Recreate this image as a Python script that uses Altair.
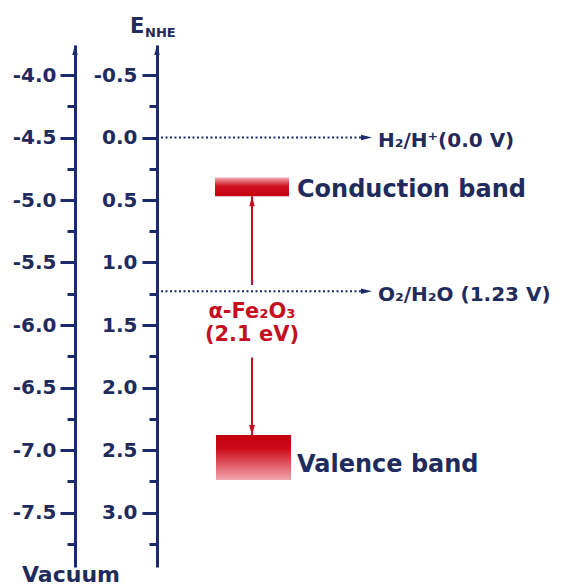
import json
import altair as alt
import pandas as pd

# ---------------- data ----------------
nhe_major = [-0.5, 0.0, 0.5, 1.0, 1.5, 2.0, 2.5, 3.0]
nhe_labels = ["-0.5", "0.0", "0.5", "1.0", "1.5", "2.0", "2.5", "3.0"]
vacuum_labels = ["-4.0", "-4.5", "-5.0", "-5.5", "-6.0", "-6.5", "-7.0", "-7.5"]
nhe_minor = [-0.25, 0.25, 0.75, 1.25, 1.75, 2.25, 2.75, 3.25]
axis_range = [-0.74, 3.436]          # NHE potential at top / bottom of the axes

redox_names = ["H₂/H⁺(0.0 V)", "O₂/H₂O (1.23 V)"]
redox_potentials = [0.0, 1.23]

cb_edges = [0.32, 0.47]              # conduction band top / bottom (V vs NHE)
vb_edges = [2.38, 2.74]              # valence band top / bottom
arrow_tails = [1.18, 1.76]           # start of the up / down red arrows
gap_labels = ["α-Fe₂O₃", "(2.1 eV)"]
band_labels = ["Conduction band", "Valence band"]

# ---------------- styles ----------------
NAVY = "#1b2a6b"
TEXT = "#1f2b5c"
RED = "#c5101f"
FONT = "DejaVu Sans"

yscale = alt.Scale(domain=axis_range, reverse=True, nice=False, zero=False)


def expr_map(values, labels):
    return f"{json.dumps(labels)}[indexof({json.dumps(values)}, datum.value)]"


common_axis = dict(
    orient="left", title=None, grid=False,
    domainColor=NAVY, domainWidth=3, tickColor=NAVY, tickWidth=3,
    labelFont=FONT, labelFontWeight="bold", labelFontSize=20, labelColor=TEXT,
    labelOverlap=False, labelBound=False, labelFlush=False,
)

vac_axis = alt.Axis(values=nhe_major, labelExpr=expr_map(nhe_major, vacuum_labels),
                    offset=82, tickSize=15, labelPadding=4, **common_axis)
nhe_axis = alt.Axis(values=nhe_major, labelExpr=expr_map(nhe_major, nhe_labels),
                    offset=0, tickSize=15, labelPadding=5, **common_axis)
vac_minor_axis = alt.Axis(values=nhe_minor, labels=False, domain=False,
                          offset=82, tickSize=8, **common_axis)
nhe_minor_axis = alt.Axis(values=nhe_minor, labels=False, domain=False,
                          offset=0, tickSize=8, **common_axis)

top_df = pd.DataFrame({"v": [axis_range[0]]})
minor_df = pd.DataFrame({"v": nhe_minor})
redox_df = pd.DataFrame({"name": redox_names, "v": redox_potentials})
cb_df = pd.DataFrame({"top": [cb_edges[0]], "bottom": [cb_edges[1]]})
vb_df = pd.DataFrame({"top": [vb_edges[0]], "bottom": [vb_edges[1]]})
up_df = pd.DataFrame({"tail": [arrow_tails[0]], "head": [cb_edges[1]]})
down_df = pd.DataFrame({"tail": [arrow_tails[1]], "head": [vb_edges[0]]})
gap_mid = (cb_edges[1] + vb_edges[0]) / 2
gap1_df = pd.DataFrame({"t": [gap_labels[0]], "v": [gap_mid]})
gap2_df = pd.DataFrame({"t": [gap_labels[1]], "v": [gap_mid]})
cb_text_df = pd.DataFrame({"t": [band_labels[0]], "v": [(cb_edges[0] + cb_edges[1]) / 2]})
vb_text_df = pd.DataFrame({"t": [band_labels[1]], "v": [(vb_edges[0] + vb_edges[1]) / 2]})

UP = "M0,0L0.55,2L-0.55,2Z"
DOWN = "M0,0L0.6,-2L-0.6,-2Z"
RIGHT = "M0,0L-2.2,-0.55L-2.2,0.55Z"

Y = lambda f, ax=None: alt.Y(f, scale=yscale, axis=ax)

vac_line = alt.Chart(top_df).mark_point(shape=UP, size=100, filled=True, color=NAVY,
                                        opacity=1, strokeWidth=0).encode(
    x=alt.value(-82), y=Y("v:Q", vac_axis))
nhe_line = alt.Chart(top_df).mark_point(shape=UP, size=100, filled=True, color=NAVY,
                                        opacity=1, strokeWidth=0).encode(
    x=alt.value(0), y=Y("v:Q", nhe_axis))
vac_minor = alt.Chart(minor_df).mark_point(opacity=0).encode(
    x=alt.value(-82), y=Y("v:Q", vac_minor_axis))
nhe_minor_l = alt.Chart(minor_df).mark_point(opacity=0).encode(
    x=alt.value(0), y=Y("v:Q", nhe_minor_axis))

redox_rule = alt.Chart(redox_df).mark_rule(color=NAVY, strokeWidth=2, strokeDash=[2, 2.5]).encode(
    y=Y("v:Q"), x=alt.value(4), x2=alt.value(206))
redox_head = alt.Chart(redox_df).mark_point(shape=RIGHT, size=100, filled=True, color=NAVY,
                                            opacity=1, strokeWidth=0).encode(
    x=alt.value(215), y=Y("v:Q"))
redox_text = alt.Chart(redox_df).mark_text(align="left", baseline="alphabetic", dy=9.5,
                                           font=FONT, fontWeight="bold", fontSize=20,
                                           color=TEXT).encode(
    x=alt.value(221), y=Y("v:Q"), text="name:N")

cb_grad = alt.LinearGradient(gradient="linear", x1=0, x2=0, y1=0, y2=1, stops=[
    alt.GradientStop(offset=0, color="#f2a9b0"),
    alt.GradientStop(offset=0.45, color="#d2141f"),
    alt.GradientStop(offset=1, color="#c4000f")])
vb_grad = alt.LinearGradient(gradient="linear", x1=0, x2=0, y1=0, y2=1, stops=[
    alt.GradientStop(offset=0, color="#c4000f"),
    alt.GradientStop(offset=0.3, color="#cc0a18"),
    alt.GradientStop(offset=1, color="#f2a6ae")])

cb_rect = alt.Chart(cb_df).mark_rect(fill=cb_grad).encode(
    x=alt.value(58), x2=alt.value(132), y=Y("top:Q"), y2="bottom:Q")
vb_rect = alt.Chart(vb_df).mark_rect(fill=vb_grad).encode(
    x=alt.value(59), x2=alt.value(134), y=Y("top:Q"), y2="bottom:Q")

up_rule = alt.Chart(up_df).mark_rule(color=RED, strokeWidth=2).encode(
    x=alt.value(95), y=Y("tail:Q"), y2="head:Q")
up_head = alt.Chart(up_df).mark_point(shape=UP, size=100, filled=True, color=RED,
                                      opacity=1, strokeWidth=0).encode(
    x=alt.value(95), y=Y("head:Q"))
down_rule = alt.Chart(down_df).mark_rule(color=RED, strokeWidth=2).encode(
    x=alt.value(95), y=Y("tail:Q"), y2="head:Q")
down_head = alt.Chart(down_df).mark_point(shape=DOWN, size=100, filled=True, color=RED,
                                          opacity=1, strokeWidth=0).encode(
    x=alt.value(95), y=Y("head:Q"))

gap1 = alt.Chart(gap1_df).mark_text(align="center", baseline="alphabetic", dy=2.5,
                                    font=FONT, fontWeight="bold", fontSize=21, color=RED).encode(
    x=alt.value(95), y=Y("v:Q"), text="t:N")
gap2 = alt.Chart(gap2_df).mark_text(align="center", baseline="alphabetic", dy=25.5,
                                    font=FONT, fontWeight="bold", fontSize=21, color=RED).encode(
    x=alt.value(95), y=Y("v:Q"), text="t:N")

cb_text = alt.Chart(cb_text_df).mark_text(align="left", baseline="middle", dy=3,
                                          font=FONT, fontWeight="bold", fontSize=24,
                                          color=TEXT).encode(
    x=alt.value(140), y=Y("v:Q"), text="t:N")
vb_text = alt.Chart(vb_text_df).mark_text(align="left", baseline="middle", dy=7,
                                          font=FONT, fontWeight="bold", fontSize=24,
                                          color=TEXT).encode(
    x=alt.value(140), y=Y("v:Q"), text="t:N")

e_text = alt.Chart(pd.DataFrame({"t": ["E"]})).mark_text(
    align="left", baseline="alphabetic", font=FONT, fontWeight="bold", fontSize=21,
    color=TEXT).encode(x=alt.value(-27), y=alt.value(-12), text="t:N")
nhe_text = alt.Chart(pd.DataFrame({"t": ["NHE"]})).mark_text(
    align="left", baseline="alphabetic", font=FONT, fontWeight="bold", fontSize=13,
    color=TEXT).encode(x=alt.value(-12), y=alt.value(-8), text="t:N")
vac_text = alt.Chart(pd.DataFrame({"t": ["Vacuum"]})).mark_text(
    align="center", baseline="alphabetic", font=FONT, fontWeight="bold", fontSize=22,
    color=TEXT).encode(x=alt.value(-86), y=alt.value(537), text="t:N")

chart = alt.layer(
    vac_line, nhe_line, vac_minor, nhe_minor_l,
    redox_rule, redox_head, redox_text,
    cb_rect, vb_rect, up_rule, up_head, down_rule, down_head,
    gap1, gap2, cb_text, vb_text, e_text, nhe_text, vac_text,
).resolve_scale(y="shared").resolve_axis(y="independent").properties(
    width=404, height=522,
    padding={"left": 157, "top": 45, "right": 0, "bottom": 20},
    autosize=alt.AutoSizeParams(type="none"),
    background="white",
).configure_view(stroke=None)

chart.save("out.html", embed_options={"renderer": "svg", "actions": False})
